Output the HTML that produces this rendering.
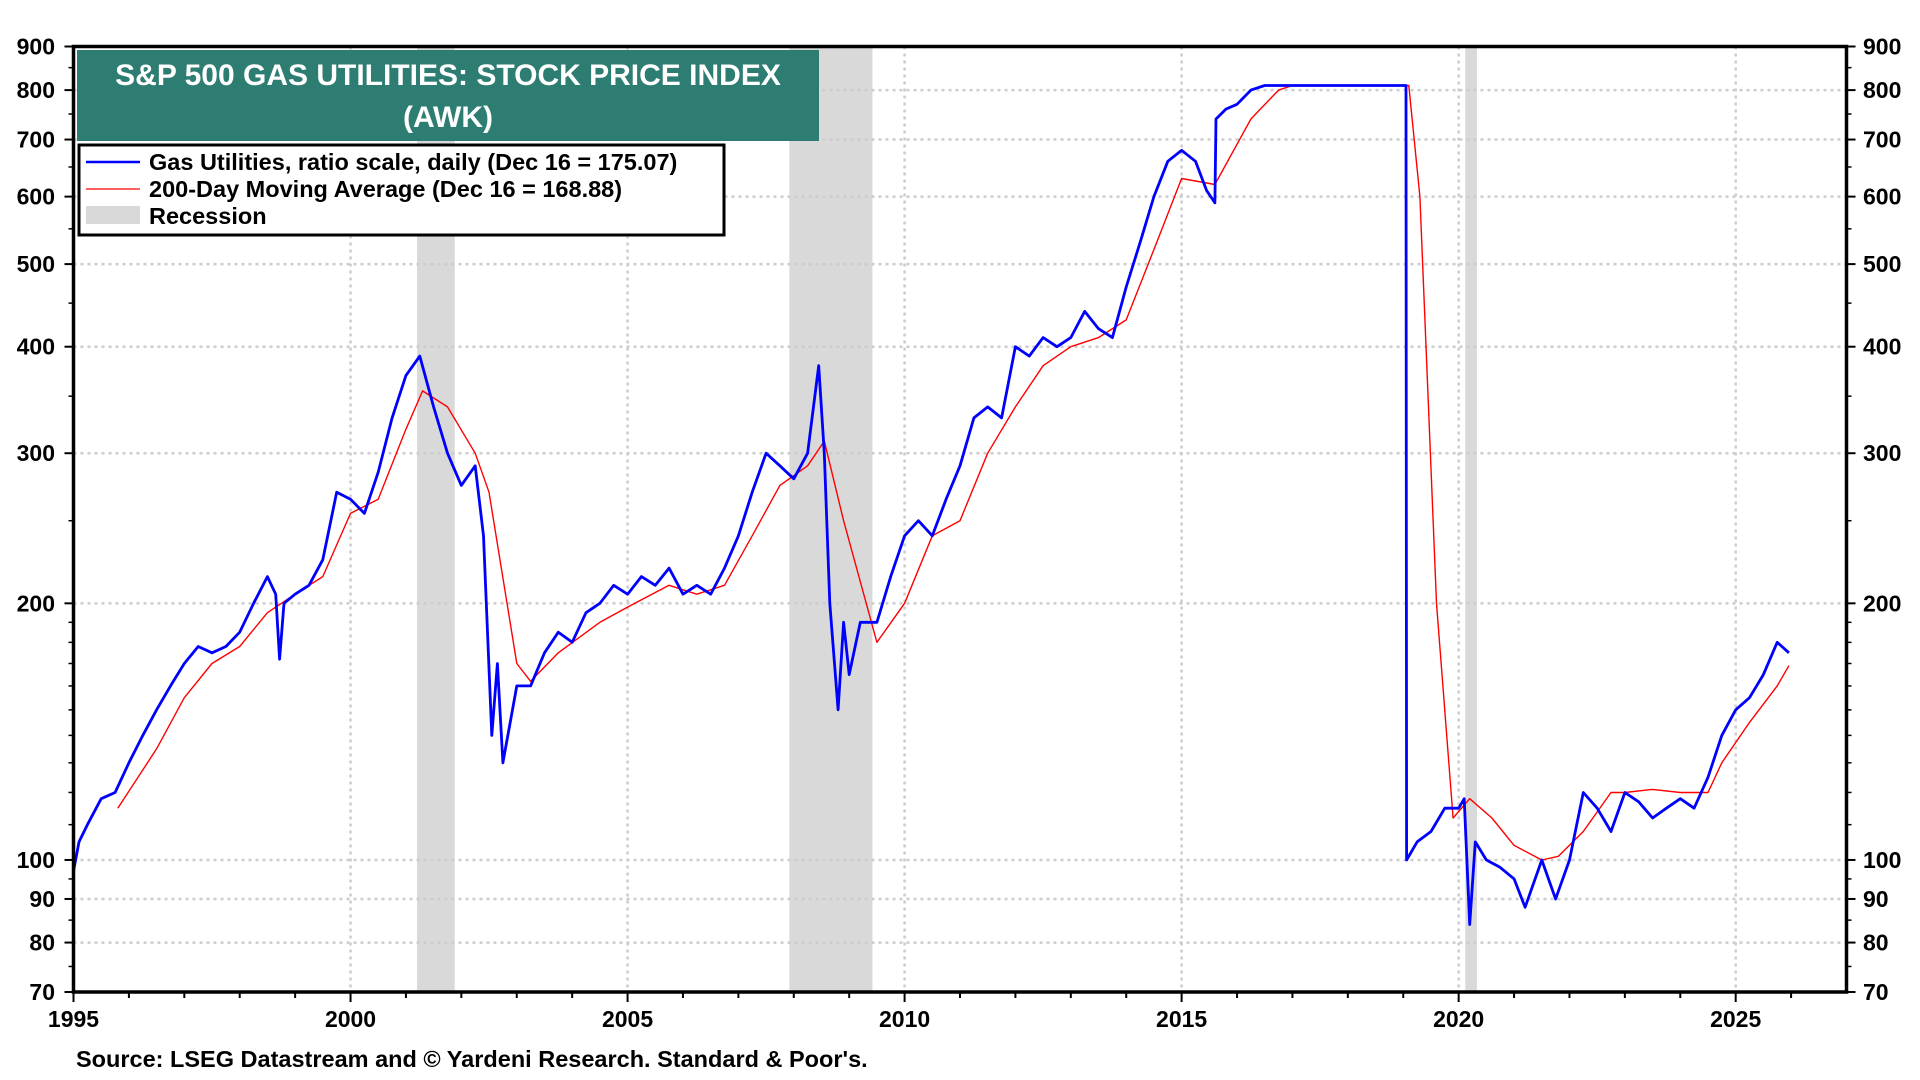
<!DOCTYPE html>
<html><head><meta charset="utf-8"><style>
html,body{margin:0;padding:0;background:#fff;width:1920px;height:1080px;overflow:hidden;font-family:"Liberation Sans",sans-serif}
svg text{font-family:"Liberation Sans",sans-serif;font-weight:bold;fill:#000}
</style></head><body>
<svg id="chart" width="1920" height="1080" viewBox="0 0 1920 1080" xmlns="http://www.w3.org/2000/svg">
<g id="rec"></g>
<g id="grid"></g>
<g id="series"></g>
<g id="axes"></g>
<g>
<rect x="77" y="50" width="742" height="91" fill="#2e7d72"/>
<text x="448" y="85" text-anchor="middle" font-size="30" style="fill:#fff">S&amp;P 500 GAS UTILITIES: STOCK PRICE INDEX</text>
<text x="448" y="127" text-anchor="middle" font-size="30" style="fill:#fff">(AWK)</text>
</g>
<g>
<rect x="79" y="145" width="645" height="90" fill="#fff" stroke="#000" stroke-width="3"/>
<g><line x1="86" y1="162" x2="140" y2="162" stroke="#0000ff" stroke-width="2.5"/><text x="149" y="170" font-size="23.5">Gas Utilities, ratio scale, daily (Dec 16 = 175.07)</text></g>
<g><line x1="86" y1="189" x2="140" y2="189" stroke="#ff0000" stroke-width="1.3"/><text x="149" y="197" font-size="23.5">200-Day Moving Average (Dec 16 = 168.88)</text></g>
<g><rect x="86" y="206" width="54" height="18" fill="#d9d9d9"/><text x="149" y="224" font-size="23.5">Recession</text></g>
</g>
<text x="76" y="1067" font-size="23.5">Source: LSEG Datastream and © Yardeni Research. Standard &amp; Poor's.</text>
</svg>
<script>
const priceT=[1995.0,1995.1,1995.25,1995.5,1995.75,1996.0,1996.25,1996.5,1996.75,1997.0,1997.25,1997.5,1997.75,1998.0,1998.25,1998.5,1998.65,1998.72,1998.8,1999.0,1999.25,1999.5,1999.75,2000.0,2000.25,2000.5,2000.75,2001.0,2001.25,2001.5,2001.75,2002.0,2002.25,2002.4,2002.55,2002.65,2002.75,2003.0,2003.25,2003.5,2003.75,2004.0,2004.25,2004.5,2004.75,2005.0,2005.25,2005.5,2005.75,2006.0,2006.25,2006.5,2006.75,2007.0,2007.25,2007.5,2007.75,2008.0,2008.25,2008.45,2008.55,2008.65,2008.8,2008.9,2009.0,2009.2,2009.5,2009.75,2010.0,2010.25,2010.5,2010.75,2011.0,2011.25,2011.5,2011.75,2012.0,2012.25,2012.5,2012.75,2013.0,2013.25,2013.5,2013.75,2014.0,2014.25,2014.5,2014.75,2015.0,2015.25,2015.45,2015.6,2015.62,2015.8,2016.0,2016.25,2016.5,2017.0,2018.0,2019.05,2019.06,2019.25,2019.5,2019.75,2020.0,2020.1,2020.2,2020.3,2020.5,2020.75,2021.0,2021.2,2021.5,2021.75,2022.0,2022.25,2022.5,2022.75,2023.0,2023.25,2023.5,2023.75,2024.0,2024.25,2024.5,2024.75,2025.0,2025.25,2025.5,2025.75,2025.96];
const priceV=[97,105,110,118,120,130,140,150,160,170,178,175,178,185,200,215,205,172,200,205,210,225,270,265,255,285,330,370,390,340,300,275,290,240,140,170,130,160,160,175,185,180,195,200,210,205,215,210,220,205,210,205,220,240,270,300,290,280,300,380,300,200,150,190,165,190,190,215,240,250,240,265,290,330,340,330,400,390,410,400,410,440,420,410,470,530,600,660,680,660,610,590,740,760,770,800,810,810,810,810,100,105,108,115,115,118,84,105,100,98,95,88,100,90,100,120,115,108,120,117,112,115,118,115,125,140,150,155,165,180,175];
const maT=[1995.8,1996.5,1997.0,1997.5,1998.0,1998.5,1999.0,1999.5,2000.0,2000.5,2001.0,2001.3,2001.75,2002.25,2002.5,2003.0,2003.25,2003.75,2004.5,2005.0,2005.75,2006.25,2006.75,2007.25,2007.75,2008.25,2008.55,2008.9,2009.5,2010.0,2010.5,2011.0,2011.5,2012.0,2012.5,2013.0,2013.5,2014.0,2014.5,2015.0,2015.6,2016.25,2016.75,2017.0,2019.1,2019.3,2019.6,2019.9,2020.2,2020.6,2021.0,2021.5,2021.8,2022.25,2022.75,2023.0,2023.5,2024.0,2024.5,2024.75,2025.25,2025.75,2025.96];
const maV=[115,135,155,170,178,195,205,215,255,265,320,355,340,300,270,170,162,175,190,198,210,205,210,240,275,290,310,250,180,200,240,250,300,340,380,400,410,430,520,630,620,740,800,810,810,600,200,112,118,112,104,100,101,108,120,120,121,120,120,130,145,160,169];
const recStart=[2001.2,2007.92,2020.12];
const recEnd=[2001.88,2009.42,2020.33];
const yTicks=[70,80,90,100,200,300,400,500,600,700,800,900];
const xTicks=[1995,2000,2005,2010,2015,2020,2025];

const L=73.5,R=1846.5,T=46.5,B=992,X0=1995,X1=2027,YMIN=70,YMAX=900;
const NS='http://www.w3.org/2000/svg';
function xs(t){return L+(t-X0)/(X1-X0)*(R-L);}
function ys(v){return B-(Math.log(v)-Math.log(YMIN))/(Math.log(YMAX)-Math.log(YMIN))*(B-T);}
function mk(tag,attrs,parent){const e=document.createElementNS(NS,tag);for(const k in attrs)e.setAttribute(k,attrs[k]);parent.appendChild(e);return e;}
const rec=document.getElementById('rec'),grid=document.getElementById('grid'),series=document.getElementById('series'),axes=document.getElementById('axes');
recStart.forEach((s,i)=>{
  const r=mk('rect',{x:xs(s),y:T,width:xs(recEnd[i])-xs(s),height:B-T,fill:'#d9d9d9'},rec);
  
  
});
yTicks.forEach(v=>{
  const y=ys(v);
  if(v>70&&v<900){const g=mk('line',{x1:L,x2:R,y1:y,y2:y,stroke:'#cccccc','stroke-width':2.5,'stroke-dasharray':'3 4'},grid);
  
  }
  const t1=mk('text',{x:55,y:y+8,'text-anchor':'end','font-size':23},axes);t1.textContent=v;
  
  
  const t2=mk('text',{x:1863,y:y+8,'text-anchor':'start','font-size':23},axes);t2.textContent=v;
  
  
  mk('line',{x1:L-9,x2:L,y1:y,y2:y,stroke:'#000','stroke-width':2},axes);
  mk('line',{x1:R,x2:R+9,y1:y,y2:y,stroke:'#000','stroke-width':2},axes);
});
[75,85,95,110,120,130,140,150,160,170,180,190,250,350,450,550,650,750,850].forEach(v=>{
  const y=ys(v);
  mk('line',{x1:L-5,x2:L,y1:y,y2:y,stroke:'#000','stroke-width':1.5},axes);
  mk('line',{x1:R,x2:R+5,y1:y,y2:y,stroke:'#000','stroke-width':1.5},axes);
});
xTicks.forEach(t=>{
  const x=xs(t);
  if(t>1995){const g=mk('line',{x1:x,x2:x,y1:T,y2:B,stroke:'#cccccc','stroke-width':2.5,'stroke-dasharray':'3 4'},grid);
  
  }
  const tl=mk('text',{x:x,y:1027,'text-anchor':'middle','font-size':23},axes);tl.textContent=t;
  
  
});
for(let t=1995;t<=2026;t++){const x=xs(t);mk('line',{x1:x,x2:x,y1:B,y2:B+(t%5==0?10:6),stroke:'#000','stroke-width':2},axes);}
function path(ts,vs,color,w,name){
  let d='';ts.forEach((t,i)=>{d+=(i?'L':'M')+xs(t).toFixed(1)+','+ys(vs[i]).toFixed(1);});
  const p=mk('path',{d:d,fill:'none',stroke:color,'stroke-width':w,'stroke-linejoin':'round'},series);
  
  
}
path(maT,maV,'#ff0000',1.4,'moving-average-line');
path(priceT,priceV,'#0000ff',2.8,'price-line');
const frame=mk('rect',{x:L,y:T,width:R-L,height:B-T,fill:'none',stroke:'#000','stroke-width':3.5},axes);


</script>
</body></html>
